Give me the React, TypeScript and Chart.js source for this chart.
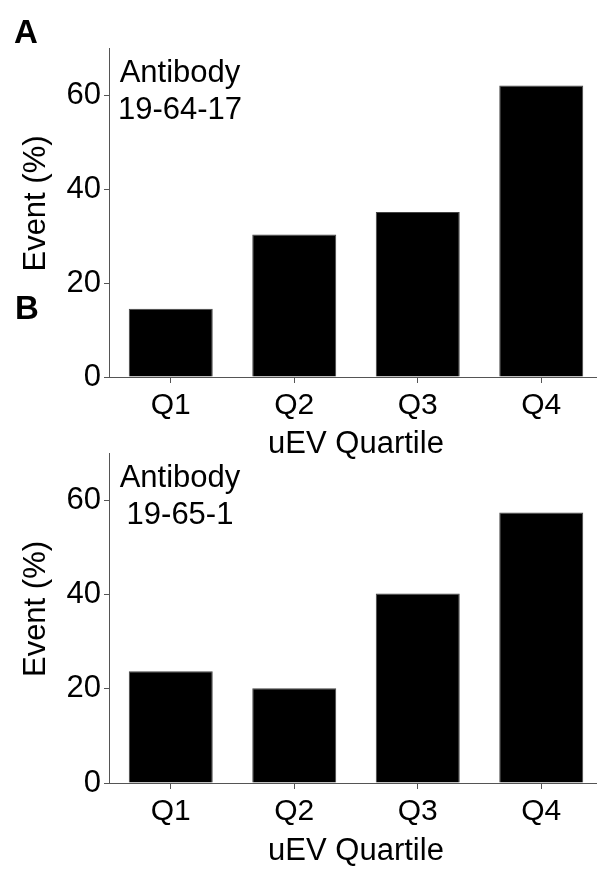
import React, { useEffect, useRef } from "react";
import { Chart, registerables } from "chart.js";

Chart.register(...registerables);

// ---- data ----
const categories = ["Q1", "Q2", "Q3", "Q4"];
const valuesA = [14.5, 30.3, 35.1, 62.0];
const valuesB = [23.7, 20.1, 40.2, 57.4];
const yTicks = [0, 20, 40, 60];
const yMax = 70;
const xTitle = "uEV Quartile";
const yTitle = "Event (%)";
const antibodyA = ["Antibody", "19-64-17"];
const antibodyB = ["Antibody", "19-65-1"];

const FONT = "'Liberation Sans', Arial, Helvetica, sans-serif";
const AXIS = "#555";

type Letter = { text: string; x: number; y: number };

function makeTextPlugin(lines: string[], letters: Letter[]) {
  return {
    id: "panelText",
    afterDraw(chart: any) {
      const ctx = chart.ctx as CanvasRenderingContext2D;
      const ca = chart.chartArea;
      ctx.save();
      ctx.fillStyle = "#000";
      ctx.textBaseline = "alphabetic";
      // antibody annotation
      ctx.font = `31px ${FONT}`;
      ctx.textAlign = "center";
      lines.forEach((line, i) => ctx.fillText(line, 180, ca.top + 34 + i * 37));
      // y-axis title
      ctx.save();
      ctx.translate(45, (ca.top + ca.bottom) / 2 - 9);
      ctx.rotate(-Math.PI / 2);
      ctx.font = `31px ${FONT}`;
      ctx.textAlign = "center";
      ctx.fillText(yTitle, 0, 0);
      ctx.restore();
      // panel letters
      ctx.font = `bold 33px ${FONT}`;
      ctx.textAlign = "left";
      letters.forEach((l) => ctx.fillText(l.text, l.x, l.y));
      ctx.restore();
    },
  };
}

function Panel(props: {
  values: number[];
  lines: string[];
  letters: Letter[];
  top: number;
  height: number;
  xHeight: number;
}) {
  const ref = useRef<HTMLCanvasElement | null>(null);
  useEffect(() => {
    if (!ref.current) return;
    const chart = new Chart(ref.current, {
      type: "bar",
      data: {
        labels: categories,
        datasets: [
          {
            data: props.values,
            backgroundColor: "#000",
            borderColor: "#444",
            borderWidth: 1,
            categoryPercentage: 1,
            barPercentage: 0.68,
          },
        ],
      },
      options: {
        animation: false,
        responsive: false,
        maintainAspectRatio: false,
        devicePixelRatio: 1,
        layout: { padding: { top: 48, right: 17, bottom: 0, left: 0 } },
        plugins: {
          legend: { display: false },
          tooltip: { enabled: false },
          title: { display: false },
        },
        scales: {
          x: {
            grid: {
              display: true,
              drawOnChartArea: false,
              offset: false,
              tickLength: 6,
              color: AXIS,
              lineWidth: 1,
            },
            border: { display: true, color: AXIS, width: 1 },
            ticks: {
              color: "#000",
              font: { family: FONT, size: 30 },
              padding: 5,
              maxRotation: 0,
              autoSkip: false,
            },
            title: {
              display: true,
              text: xTitle,
              color: "#000",
              font: { family: FONT, size: 31 },
              padding: 0,
            },
            afterFit: (s: any) => {
              s.height = props.xHeight;
            },
          },
          y: {
            min: 0,
            max: yMax,
            afterBuildTicks: (s: any) => {
              s.ticks = yTicks.map((v) => ({ value: v }));
            },
            grid: {
              display: true,
              drawOnChartArea: false,
              tickLength: 5,
              color: AXIS,
              lineWidth: 1,
            },
            border: { display: true, color: AXIS, width: 1 },
            ticks: {
              color: "#000",
              font: { family: FONT, size: 31 },
              padding: 3,
            },
            afterFit: (s: any) => {
              s.width = 109;
            },
          },
        },
      } as any,
      plugins: [makeTextPlugin(props.lines, props.letters)],
    });
    return () => chart.destroy();
  }, []);
  return (
    <canvas
      ref={ref}
      width={620}
      height={props.height}
      style={{ position: "absolute", left: 0, top: props.top }}
    />
  );
}

export default function App() {
  return (
    <div
      style={{
        position: "absolute",
        left: 0,
        top: 0,
        width: 597,
        height: 872,
        overflow: "hidden",
        background: "#fff",
      }}
    >
      <Panel
        values={valuesA}
        lines={antibodyA}
        letters={[
          { text: "A", x: 14, y: 43 },
          { text: "B", x: 15, y: 319 },
        ]}
        top={0}
        height={463}
        xHeight={86}
      />
      <Panel
        values={valuesB}
        lines={antibodyB}
        letters={[]}
        top={405}
        height={465}
        xHeight={87}
      />
    </div>
  );
}
